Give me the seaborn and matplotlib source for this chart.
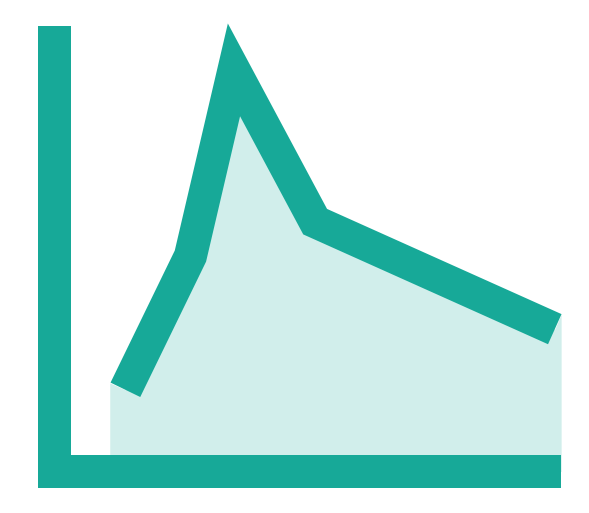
import numpy as np
import pandas as pd
import matplotlib
matplotlib.use('Agg')
import matplotlib.pyplot as plt
import seaborn as sns

# line points (chart units)
line_x = [1.45, 2.78, 3.67, 5.33, 10.23]
line_y = [1.90, 5.01, 9.34, 5.81, 3.31]

# shaded area edge (slightly wider than the line)
area_x = [1.13, 1.45, 2.78, 3.67, 5.33, 10.23, 10.36]
area_y = [2.06, 1.90, 5.01, 9.34, 5.81, 3.31, 3.66]

teal = '#17a998'
light = '#d1eeeb'

sns.set_style('white')

fig = plt.figure(figsize=(5.89, 5.13), dpi=100)
ax = fig.add_axes([0.0925, 0.0809, 0.8303, 0.8382])

ax.fill_between(area_x, area_y, 0, color=light, linewidth=0, clip_on=False, zorder=1)

df = pd.DataFrame({'x': line_x, 'y': line_y})
sns.lineplot(data=df, x='x', y='y', ax=ax, color=teal, linewidth=23.76,
             solid_capstyle='butt', solid_joinstyle='miter', clip_on=False, zorder=2)

ax.set_xlim(0, 10)
ax.set_ylim(0, 10)
ax.set_xticks([])
ax.set_yticks([])
ax.set_xlabel('')
ax.set_ylabel('')
for side in ['top', 'right']:
    ax.spines[side].set_visible(False)
for side in ['left', 'bottom']:
    ax.spines[side].set_color(teal)
    ax.spines[side].set_linewidth(23.76)
    ax.spines[side].set_zorder(3)

fig.savefig('out.png', dpi=100, facecolor='white')
